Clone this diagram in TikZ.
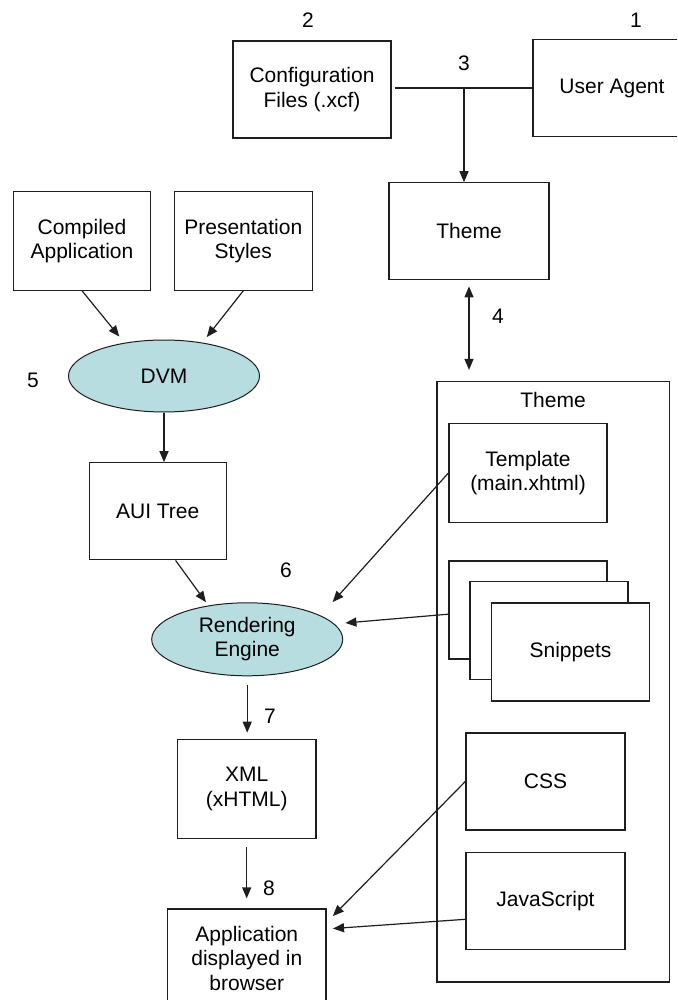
\documentclass[tikz,border=0pt]{standalone}
\usepackage{fontspec}
\setmainfont{Liberation Sans}
\usetikzlibrary{arrows.meta,shapes.geometric}
\definecolor{engine}{RGB}{183,221,224}
\definecolor{ink}{RGB}{30,30,30}
\tikzset{
  txt/.style={font=\fontsize{21}{24.5}\selectfont, text=black, align=center},
  box/.style={txt, draw=ink, line width=1.2pt, fill=white, inner sep=0pt},
  proc/.style={txt, ellipse, draw=ink, line width=1pt, fill=engine, inner sep=0pt},
  num/.style={font=\fontsize{21}{24}\selectfont, text=black, inner sep=0pt},
  tip/.style={},
  flow/.style={draw=ink, line width=1.2pt, -{Triangle[length=11pt,width=9pt]}},
  both/.style={draw=ink, line width=1.2pt, {Triangle[length=11pt,width=9pt]}-{Triangle[length=11pt,width=9pt]}},
  link/.style={draw=ink, line width=1.2pt}
}
\begin{document}
\begin{tikzpicture}[x=1pt,y=-1pt]
\useasboundingbox (0,0) rectangle (677,1000);
\clip (0,0) rectangle (677,1000);

% sources of the theme
\node[box, minimum width=158, minimum height=97] (cfg) at (312,89.5) {Configuration\\Files (.xcf)};
\node[box, minimum width=158, minimum height=97] (ua) at (612,88) {User Agent};
\node[box, minimum width=160, minimum height=97] (theme) at (469,231.3) {Theme};
\coordinate (join) at (464,88);

% theme contents
\node[box, minimum width=232.5, minimum height=600.5] (outer) at (553.25,681.75) {};
\node[txt] (otitle) at (553,400) {Theme};
\node[box, minimum width=158, minimum height=99] (tpl) at (528,473) {Template\\(main.xhtml)};
\node[box, minimum width=158, minimum height=98] (sn1) at (528,610) {};
\node[box, minimum width=158, minimum height=98] (sn2) at (549,630.5) {};
\node[box, minimum width=158, minimum height=98] (sn3) at (570.5,652) {Snippets};
\node[box, minimum width=159, minimum height=97] (css) at (545.5,781.4) {CSS};
\node[box, minimum width=159, minimum height=97] (js) at (545.5,900.8) {JavaScript};

% processing chain
\node[box, minimum width=137.4, minimum height=98.3] (comp) at (82,241) {Compiled\\Application};
\node[box, minimum width=138, minimum height=98.3] (pres) at (243.3,241) {Presentation\\Styles};
\node[proc, minimum width=191, minimum height=72] (dvm) at (164,376) {DVM};
\node[box, minimum width=137, minimum height=97] (aui) at (157.7,511.3) {AUI Tree};
\node[proc, minimum width=191, minimum height=73] (rend) at (247.2,639.3) {Rendering\\Engine};
\node[box, minimum width=138.7, minimum height=99] (xml) at (246.7,788.8) {XML\\(xHTML)};
\node[box, minimum width=158.3, minimum height=98] (app) at (246.8,958) {Application\\displayed in\\browser};

% step numbers
\node[num] (n1) at (636,20) {1};
\node[num] (n2) at (308,20) {2};
\node[num] (n3) at (464,63) {3};
\node[num] (n4) at (498,316) {4};
\node[num] (n5) at (33,380) {5};
\node[num] (n6) at (286,570) {6};
\node[num] (n7) at (270,716) {7};
\node[num] (n8) at (269,888) {8};

% connectors
\draw[link] ([xshift=3pt]cfg.east |- join) -- (ua.west |- join);
\draw[flow] (join) -- (join |- theme.north);
\draw[both, shorten <=6pt, shorten >=11pt] (theme.south) -- (theme.south |- outer.north);
\draw[flow, shorten >=8pt] (comp.south) -- (dvm.140);
\draw[flow, shorten >=7pt] (pres.south) -- (dvm.41);
\draw[flow] (dvm.south) -- (dvm.south |- aui.north);
\draw[flow, shorten >=4pt] (aui.-70) -- (rend.139);
\draw[flow, shorten >=18pt] (tpl.west) -- (rend.18);
\draw[flow, shorten >=11pt] (sn1.183) -- (rend.10);
\draw[flow, shorten <=9pt, shorten >=6pt] (rend.south) -- (rend.south |- xml.north);
\draw[flow, shorten <=8pt, shorten >=10pt] (xml.south) -- (xml.south |- app.north);
\draw[flow, shorten >=9pt] (css.west) -- (app.24);
\draw[flow, shorten >=6.5pt] (js.193) -- (app.20);
\end{tikzpicture}
\end{document}
